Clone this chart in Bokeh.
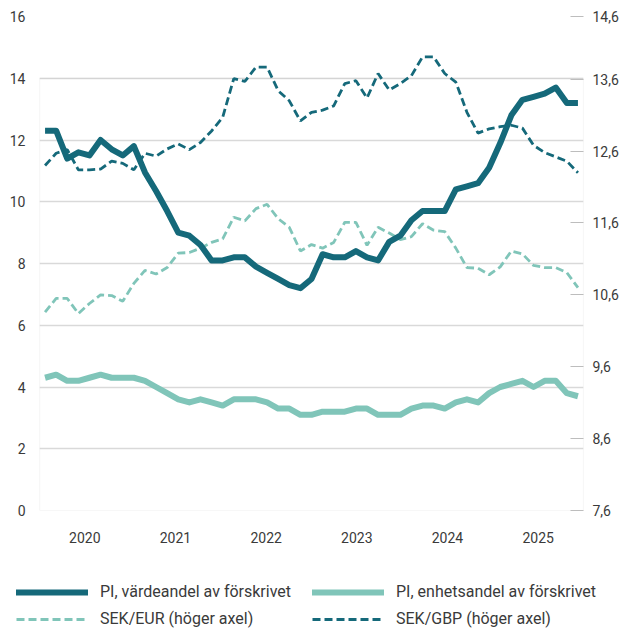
from bokeh.plotting import figure
from bokeh.layouts import column
from bokeh.models import (Range1d, LinearAxis, FixedTicker, Legend, LegendItem,
                          BoxAnnotation, ColumnDataSource)
from bokeh.embed import file_html
from bokeh.resources import INLINE

# ---------------- data ----------------
years = ["2020", "2021", "2022", "2023", "2024", "2025"]
periods = list(range(49))

varde = [12.3, 12.3, 11.4, 11.6, 11.5, 12.0, 11.7, 11.5, 11.8, 10.95,
         10.35, 9.7, 9.0, 8.9, 8.6, 8.1, 8.1, 8.2, 8.2, 7.9,
         7.7, 7.5, 7.3, 7.2, 7.5, 8.3, 8.2, 8.2, 8.4, 8.2,
         8.1, 8.7, 8.9, 9.4, 9.7, 9.7, 9.7, 10.4, 10.5, 10.6,
         11.1, 11.9, 12.8, 13.3, 13.4, 13.5, 13.7, 13.2, 13.2]

enhet = [4.3, 4.4, 4.2, 4.2, 4.3, 4.4, 4.3, 4.3, 4.3, 4.2,
         4.0, 3.8, 3.6, 3.5, 3.6, 3.5, 3.4, 3.6, 3.6, 3.6,
         3.5, 3.3, 3.3, 3.1, 3.1, 3.2, 3.2, 3.2, 3.3, 3.3,
         3.1, 3.1, 3.1, 3.3, 3.4, 3.4, 3.3, 3.5, 3.6, 3.5,
         3.8, 4.0, 4.1, 4.2, 4.0, 4.2, 4.2, 3.8, 3.7]

eur = [10.36, 10.55, 10.55, 10.34, 10.48, 10.60, 10.59, 10.51, 10.76, 10.94,
       10.89, 10.98, 11.18, 11.19, 11.25, 11.33, 11.38, 11.68, 11.63, 11.80,
       11.86, 11.66, 11.54, 11.21, 11.30, 11.25, 11.33, 11.61, 11.61, 11.29,
       11.54, 11.46, 11.37, 11.41, 11.59, 11.50, 11.48, 11.25, 10.98, 10.97,
       10.88, 10.99, 11.21, 11.17, 11.01, 10.98, 10.98, 10.91, 10.70]

gbp = [12.40, 12.57, 12.62, 12.34, 12.34, 12.35, 12.46, 12.43, 12.34, 12.57,
       12.53, 12.63, 12.70, 12.62, 12.72, 12.88, 13.07, 13.61, 13.57, 13.77,
       13.77, 13.44, 13.30, 13.02, 13.14, 13.17, 13.23, 13.54, 13.58, 13.34,
       13.68, 13.45, 13.54, 13.65, 13.91, 13.91, 13.68, 13.56, 13.14, 12.85,
       12.91, 12.94, 12.96, 12.92, 12.68, 12.58, 12.52, 12.46, 12.30]

left_ticks = [0, 2, 4, 6, 8, 10, 12, 14, 16]
right_ticks = [7.6, 8.6, 9.6, 10.6, 11.6, 12.6, 13.6, 14.473]
right_tick_labels = ["7,6", "8,6", "9,6", "10,6", "11,6", "12,6", "13,6", "14,6"]

labels = ["PI, värdeandel av förskrivet", "PI, enhetsandel av förskrivet",
          "SEK/EUR (höger axel)", "SEK/GBP (höger axel)"]

# ---------------- style ----------------
DARK = "#15697a"
LIGHT = "#80c5b9"
GRID = "#d9d9d9"
TEXT = "#3a3a3a"
FONT = "Roboto"

src = ColumnDataSource(dict(x=periods, varde=varde, enhet=enhet, eur=eur, gbp=gbp))

n = len(periods)
year_pos = [-0.5 + (k + 0.5) * n / len(years) for k in range(len(years))]

p = figure(frame_width=544, frame_height=494,
           x_range=Range1d(-0.5, n - 0.5), y_range=Range1d(0, 16),
           output_backend="svg", toolbar_location=None,
           min_border_left=39, min_border_right=45,
           min_border_top=16, min_border_bottom=40)
p.extra_y_ranges = {"right": Range1d(right_ticks[0], right_ticks[-1])}
p.outline_line_color = None
p.background_fill_color = "white"
p.border_fill_color = "white"

# grid
p.xgrid.grid_line_color = None
p.ygrid.ticker = FixedTicker(ticks=left_ticks)
p.ygrid.grid_line_color = GRID
p.ygrid.grid_line_width = 1.5

# frame box (axis lines from 0 to 14)
p.add_layout(BoxAnnotation(bottom=0, top=14, fill_color=None, fill_alpha=0,
                           line_color="#c8c8c8", line_width=1.2, level="underlay"))

# left axis
ya = p.yaxis[0]
ya.ticker = FixedTicker(ticks=left_ticks)
ya.axis_line_color = None
ya.major_tick_line_color = None
ya.minor_tick_line_color = None
ya.major_label_standoff = 8
ya.major_label_text_font = FONT
ya.major_label_text_font_size = "14px"
ya.major_label_text_color = TEXT

# bottom axis
xa = p.xaxis[0]
xa.ticker = FixedTicker(ticks=year_pos)
xa.major_label_overrides = dict(zip(year_pos, years))
xa.axis_line_color = None
xa.major_tick_line_color = None
xa.minor_tick_line_color = None
xa.major_label_standoff = 15
xa.major_label_text_font = FONT
xa.major_label_text_font_size = "14px"
xa.major_label_text_color = TEXT

# right axis
ra = LinearAxis(y_range_name="right", ticker=FixedTicker(ticks=right_ticks),
                major_label_overrides=dict(zip(right_ticks, right_tick_labels)))
ra.axis_line_color = None
ra.major_tick_in = 13
ra.major_tick_out = 0
ra.major_tick_line_color = "#bdbdbd"
ra.minor_tick_line_color = None
ra.major_label_standoff = 9
ra.major_label_text_font = FONT
ra.major_label_text_font_size = "14px"
ra.major_label_text_color = TEXT
p.add_layout(ra, "right")

# lines
STY = dict(
    eur=dict(color=LIGHT, line_width=2.8, line_dash="8 4"),
    gbp=dict(color=DARK, line_width=2.8, line_dash="8 4"),
    enhet=dict(color=LIGHT, line_width=6, line_join="round"),
    varde=dict(color=DARK, line_width=6, line_join="round"),
)
p.line("x", "eur", source=src, y_range_name="right", **STY["eur"])
p.line("x", "gbp", source=src, y_range_name="right", **STY["gbp"])
p.line("x", "enhet", source=src, **STY["enhet"])
p.line("x", "varde", source=src, **STY["varde"])

# ---------------- legend (separate strip below the chart) ----------------
# same series drawn into a strip whose ranges show none of them; only the legend is visible
lg = figure(width=628, height=78, x_range=Range1d(-1000, -999), y_range=Range1d(-1000, -999),
            x_axis_location=None, y_axis_location=None,
            output_backend="svg", toolbar_location=None,
            min_border_left=0, min_border_right=0, min_border_top=0, min_border_bottom=0)
for fig in (p, lg):
    try:
        fig.frame_align = False
    except Exception:
        pass
lg.grid.visible = False
lg.outline_line_color = None
lg.border_fill_color = "white"
lr_var = lg.line("x", "varde", source=src, line_cap="round", **STY["varde"])
lr_enh = lg.line("x", "enhet", source=src, line_cap="round", **STY["enhet"])
lr_eur = lg.line("x", "eur", source=src, **STY["eur"])
lr_gbp = lg.line("x", "gbp", source=src, **STY["gbp"])

legend = Legend(items=[LegendItem(label=labels[0], renderers=[lr_var]),
                       LegendItem(label=labels[1], renderers=[lr_enh]),
                       LegendItem(label=labels[2], renderers=[lr_eur]),
                       LegendItem(label=labels[3], renderers=[lr_gbp])],
                location=(16, 0), orientation="horizontal", ncols=2)
legend.glyph_width = 72
legend.glyph_height = 18
legend.label_standoff = 12
legend.label_width = 204
legend.spacing = 8
legend.padding = 0
legend.margin = 0
legend.border_line_color = None
legend.background_fill_alpha = 0
legend.label_text_font = FONT
legend.label_text_font_size = "16px"
legend.label_text_color = TEXT
lg.add_layout(legend, "center")

layout = column(p, lg, spacing=0)
open("out.html", "w").write(file_html(layout, INLINE))
